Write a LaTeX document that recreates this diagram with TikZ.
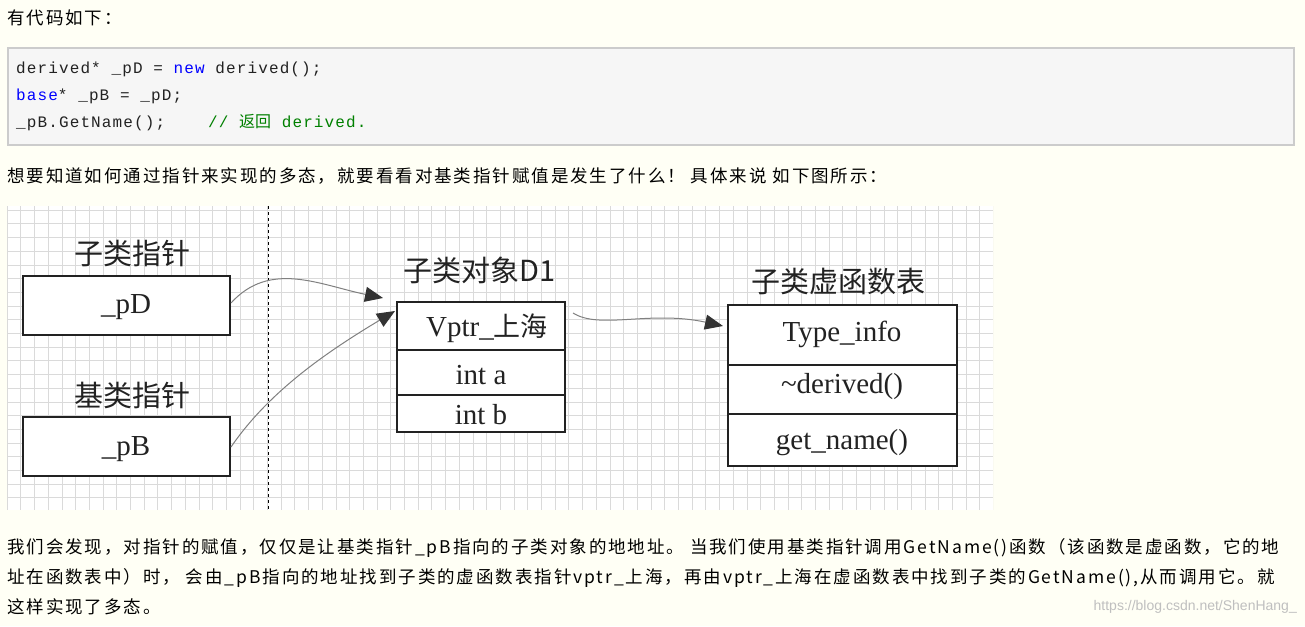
\documentclass[tikz,border=0pt]{standalone}
\usepackage{fontspec}
\usetikzlibrary{arrows.meta}
\setmainfont{Liberation Serif}
\newfontfamily\cjk{Noto Sans CJK SC}
\newfontfamily\cjkbody[LetterSpace=11]{Noto Sans CJK SC}
\newfontfamily\cmono[LetterSpace=7]{Liberation Mono}
\definecolor{pagebg}{HTML}{FFFFF5}
\definecolor{codebg}{HTML}{F6F6F6}
\definecolor{codeborder}{HTML}{CCCCCC}
\definecolor{kw}{HTML}{0000FF}
\definecolor{cm}{HTML}{008000}
\definecolor{gridc}{HTML}{DADADA}
\definecolor{txt}{HTML}{222222}
\begin{document}
\begin{tikzpicture}[x=1pt,y=-1pt,
  body/.style={anchor=west,inner sep=0pt,font=\cjkbody\fontsize{17.5}{20}\selectfont,text=black},
  code/.style={anchor=west,inner sep=0pt,font=\cmono\fontsize{16}{18}\selectfont,text=txt},
  title/.style={inner sep=0pt,font=\cjk\fontsize{29}{32}\selectfont\color{txt}},
  ctext/.style={inner sep=0pt,font=\fontsize{29}{32}\selectfont,text=txt},
  conn/.style={draw=gray,line width=1pt,-{Triangle[length=18pt,width=15pt,color=black!80,fill=black!80]}}]
\useasboundingbox (0,0) rectangle (1305,626);
\fill[pagebg] (0,0) rectangle (1305,626);
\node[body] (l1) at (7,18) {有代码如下：};
\draw[codeborder,line width=2pt,fill=codebg] (8,48) rectangle (1294,145);
\node[code] (c1) at (16,69) {derived* \_pD = \textcolor{kw}{new} derived();};
\node[code] (c2) at (16,96) {\textcolor{kw}{base}* \_pB = \_pD;};
\node[code] (c3) at (16,123) {\_pB.GetName();\ \ \ \ \textcolor{cm}{// {\cjk 返回} derived.}};
\node[body] (l2) at (7,176) {想要知道如何通过指针来实现的多态，就要看看对基类指针赋值是发生了什么！ 具体来说 如下图所示：};
% grid
\fill[white] (7,206) rectangle (993,510);
\begin{scope}
\clip (7,206) rectangle (993,510);
\foreach \i in {0,...,72} {\draw[gridc,line width=0.6pt] (7+\i*13.7,206) -- (7+\i*13.7,510);}
\foreach \j in {0,...,22} {\draw[gridc,line width=0.6pt] (7,210+\j*13.7) -- (993,210+\j*13.7);}
\end{scope}
\draw[black,dashed,line width=1pt] (268,206) -- (268,510);
% pointers
\node[title] (t1) at (132,253) {子类指针};
\draw[txt,line width=1.2pt,fill=white] (23,276) rectangle (230,335);
\node[ctext] (pD) at (126,307) {\_pD};
\node[title] (t2) at (132,395) {基类指针};
\draw[txt,line width=1.2pt,fill=white] (23,417) rectangle (230,476);
\node[ctext] (pB) at (126,449) {\_pB};
% object
\node[title] (t3) at (480,270) {子类对象D1};
\draw[txt,line width=1.2pt,fill=white] (397,302) rectangle (565,432);
\draw[txt,line width=1.2pt] (397,350) -- (565,350) (397,395) -- (565,395);
\node[ctext] (vp) at (487,328) {Vptr\_{\cjk\fontsize{27}{30}\selectfont 上海}};
\node[ctext] (ia) at (481,375) {int a};
\node[ctext] (ib) at (481,415) {int b};
% table
\node[title] (t4) at (838,282) {子类虚函数表};
\draw[txt,line width=1.2pt,fill=white] (728,305) rectangle (957,466);
\draw[txt,line width=1.2pt] (728,365) -- (957,365) (728,414) -- (957,414);
\node[ctext] (ti) at (842,334) {Type\_info};
\node[ctext] (de) at (842,387) {\textasciitilde derived()};
\node[ctext] (gn) at (842,443) {get\_name()};
% connectors
\coordinate (a1s) at (231,303);
\coordinate (a1e) at (383,298);
\coordinate (a2s) at (231,447);
\coordinate (a2e) at (395,311);
\coordinate (a3s) at (573,313);
\coordinate (a3e) at (723,326);
\draw[conn] (a1s) .. controls (270,260) and (320,285) .. (a1e);
\draw[conn] (a2s) .. controls (270,390) and (330,350) .. (a2e);
\draw[conn] (a3s) .. controls (600,330) and (650,310) .. (a3e);
% bottom text
\node[body] (b1) at (7,548) {我们会发现，对指针的赋值，仅仅是让基类指针\_pB指向的子类对象的地地址。 当我们使用基类指针调用GetName()函数（该函数是虚函数，它的地};
\node[body] (b2) at (7,578) {址在函数表中）时， 会由\_pB指向的地址找到子类的虚函数表指针vptr\_上海，再由vptr\_上海在虚函数表中找到子类的GetName(),从而调用它。就};
\node[body] (b3) at (7,607) {这样实现了多态。};
\node[anchor=east,inner sep=0pt,font=\fontspec{Liberation Sans}\fontsize{14}{16}\selectfont,text=black!25] (wm) at (1297,607) {https://blog.csdn.net/ShenHang\_};
\end{tikzpicture}
\end{document}
